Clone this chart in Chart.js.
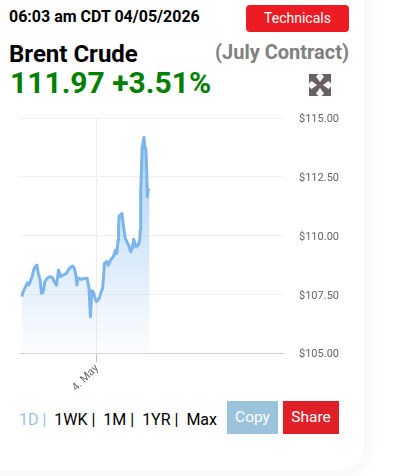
<!DOCTYPE html>
<html>
<head>
<meta charset="utf-8">
<title>Brent Crude</title>
<script src="https://cdn.jsdelivr.net/npm/chart.js@4"></script>
<style>
  html, body { margin: 0; padding: 0; background: #fff; overflow: hidden; }
  body { width: 404px; height: 476px; position: relative; font-family: Roboto, sans-serif; }
  .card {
    position: absolute; left: -30px; top: -30px; width: 394px; height: 501px;
    background: #fff; border-radius: 0 0 24px 0;
    box-shadow: 0 0 18px rgba(0,0,0,0.07);
  }
  .txt { position: absolute; white-space: nowrap; line-height: 1; }
  #stamp { left: 9px; top: 9px; font-size: 16px; font-weight: 700; color: #000; }
  #tech {
    position: absolute; left: 246px; top: 5px; width: 103px; height: 27px;
    background: #ed1c24; color: #fff; border-radius: 4px;
    font-size: 14px; line-height: 27px; text-align: center;
  }
  #name { left: 9px; top: 42px; font-size: 24px; font-weight: 700; color: #000; }
  #contract { right: 55px; top: 42px; font-size: 20px; font-weight: 700; color: #808080; }
  #price { left: 10px; top: 68px; font-size: 30px; font-weight: 700; color: #008000; }
  #expand { position: absolute; left: 309px; top: 74px; }
  #chartBox { position: absolute; left: 0; top: 100px; width: 364px; height: 300px; }
  #ranges { left: 19px; top: 412px; font-size: 16px; color: #000; }
  #ranges span { color: #9cc3dc; }
  .btn {
    position: absolute; top: 401px; height: 33px; color: #fff;
    font-size: 15.5px; line-height: 32px; text-align: center;
  }
  #copy { left: 227px; width: 51px; background: #9cc3dc; }
  #share { left: 283px; width: 56px; background: #e02027; }
</style>
</head>
<body>
<div class="card"></div>
<div class="txt" id="stamp">06:03 am CDT 04/05/2026</div>
<div id="tech">Technicals</div>
<div class="txt" id="name">Brent Crude</div>
<div class="txt" id="contract">(July Contract)</div>
<div class="txt" id="price">111.97 +3.51%</div>
<svg id="expand" width="22" height="22" viewBox="0 0 22 22" fill="#6b6068">
  <path d="M0 0H9.5L7 2.5 11 8 15 2.5 12.5 0H22V9.5L19.5 7 14 11 19.5 15 22 12.5V22H12.5L15 19.5 11 14 7 19.5 9.5 22H0V12.5L2.5 15 8 11 2.5 7 0 9.5Z"/>
</svg>
<div id="chartBox"><canvas id="priceChart"></canvas></div>
<div class="txt" id="ranges"><span>1D |</span>&nbsp; 1WK |&nbsp; 1M |&nbsp; 1YR |&nbsp; Max</div>
<div class="btn" id="copy">Copy</div>
<div class="btn" id="share">Share</div>

<script>
// hours relative to 4 May 00:00
const hours = [
  -16.0, -15.7, -15.2, -14.8, -14.5, -14.1, -13.8, -13.5, -13.2, -12.8,
  -12.5, -12.1, -11.8, -11.4, -11.1, -10.6, -10.0, -9.5, -9.1, -8.6,
  -8.2, -7.7, -7.2, -6.5, -5.9, -5.2, -4.8, -4.5, -4.3, -4.0,
  -3.3, -2.6, -2.1, -1.7, -1.4, -1.1, -0.8, -0.4, -0.1, 0.5,
  0.9, 1.2, 1.6, 2.1, 2.4, 2.9, 3.5, 3.9, 4.2, 4.5,
  4.6, 4.7, 5.0, 5.3, 5.6, 6.0, 6.7, 7.2, 7.5, 7.8,
  8.3, 8.8, 9.1, 9.2, 9.3, 9.6, 10.0, 10.2, 10.4, 10.6,
  10.7, 10.9, 11.2
];
const prices = [
  107.40, 107.61, 107.82, 107.99, 107.89, 108.11, 108.25, 108.53, 108.65, 108.74,
  108.39, 108.11, 107.54, 107.61, 108.04, 108.18, 108.25, 108.22, 108.04, 107.89,
  108.53, 108.25, 108.32, 108.39, 108.60, 108.70, 108.60, 108.32, 107.89, 108.18,
  108.14, 108.18, 108.18, 107.75, 106.55, 107.65, 107.61, 107.33, 107.19, 107.33,
  107.61, 107.75, 108.82, 108.89, 108.74, 108.96, 109.10, 109.38, 109.24, 109.81,
  110.38, 110.83, 110.87, 110.94, 110.45, 109.88, 109.60, 109.31, 109.45, 109.84,
  109.52, 109.60, 109.81, 110.23, 111.79, 113.71, 114.18, 113.71, 113.71, 112.64,
  111.65, 111.94, 111.98
];
const xTickValues = [0];
const xTickLabels = ['4. May'];
const yTickValues = [105, 107.5, 110, 112.5, 115];

const canvas = document.getElementById('priceChart');

new Chart(canvas.getContext('2d'), {
  type: 'line',
  data: {
    datasets: [{
      data: hours.map((h, i) => ({ x: h, y: prices[i] })),
      borderColor: '#7cb5ec',
      borderWidth: 3,
      borderJoinStyle: 'round',
      pointRadius: 0,
      tension: 0,
      fill: 'start',
      backgroundColor: ctx => {
        const area = ctx.chart.chartArea;
        if (!area) return 'transparent';
        const grad = ctx.chart.ctx.createLinearGradient(0, area.top + 20, 0, area.bottom);
        grad.addColorStop(0, 'rgba(124,181,236,0.62)');
        grad.addColorStop(1, 'rgba(124,181,236,0.02)');
        return grad;
      }
    }]
  },
  options: {
    responsive: true,
    maintainAspectRatio: false,
    animation: false,
    layout: { padding: { left: 19, top: 18, right: 0, bottom: 0 } },
    plugins: { legend: { display: false }, tooltip: { enabled: false } },
    scales: {
      x: {
        type: 'linear',
        min: -16.6,
        max: 39.8,
        afterBuildTicks: scale => { scale.ticks = xTickValues.map(v => ({ value: v })); },
        afterFit: scale => { scale.height = 47; scale.paddingLeft = 0; scale.paddingRight = 0; },
        border: { color: '#ccd6eb', width: 1 },
        grid: { color: '#eeeeee', tickColor: '#b8bfcc', tickLength: 9 },
        ticks: {
          color: '#666666',
          font: { family: 'Roboto', size: 11 },
          autoSkip: false,
          minRotation: 45,
          maxRotation: 45,
          padding: 0,
          callback: (v, i) => xTickLabels[i]
        }
      },
      y: {
        position: 'right',
        min: 105,
        max: 115,
        afterBuildTicks: scale => { scale.ticks = yTickValues.map(v => ({ value: v })); },
        afterFit: scale => { scale.width = 80; scale.paddingTop = 0; scale.paddingBottom = 0; },
        border: { display: false },
        grid: { color: '#f2f2f2', drawTicks: false },
        ticks: {
          color: '#666666',
          font: { family: 'Roboto', size: 11 },
          padding: 15,
          labelOffset: 1.5,
          callback: v => '$' + v.toFixed(2)
        }
      }
    }
  }
});
</script>
</body>
</html>
